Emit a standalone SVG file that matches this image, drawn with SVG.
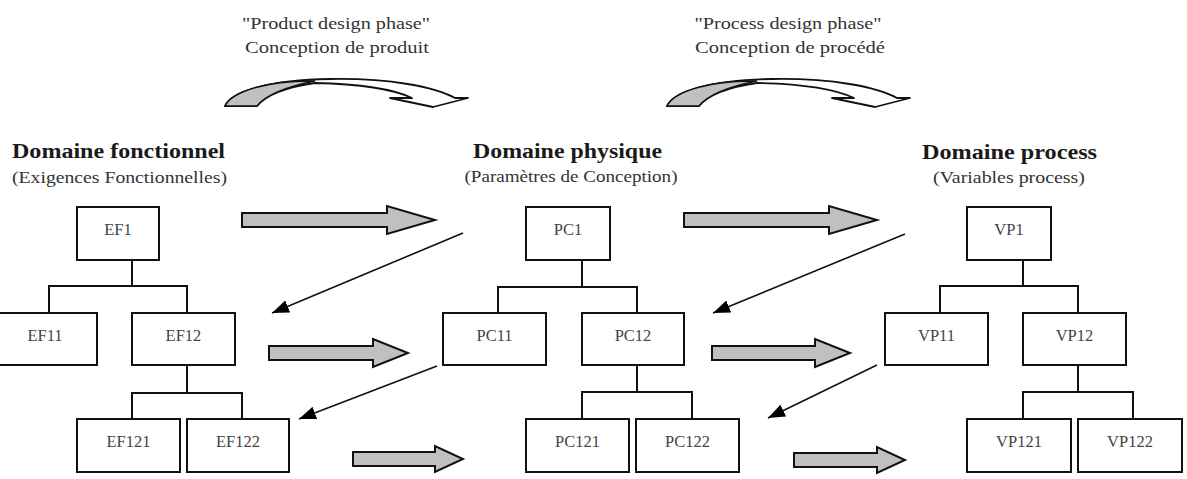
<svg xmlns="http://www.w3.org/2000/svg" width="1187" height="479" viewBox="0 0 1187 479">
<defs>
<style>
.box{fill:#fff;stroke:#111;stroke-width:2}
.tl{fill:none;stroke:#111;stroke-width:2}
.lbl{font-family:"Liberation Serif","Times New Roman",serif;font-size:16.5px;fill:#444;text-anchor:middle}
.ttl{font-family:"Liberation Serif","Times New Roman",serif;font-size:20px;font-weight:bold;fill:#1a1a1a;text-anchor:middle}
.sub{font-family:"Liberation Serif","Times New Roman",serif;font-size:17px;fill:#333;text-anchor:middle}
.top{font-family:"Liberation Serif","Times New Roman",serif;font-size:17px;fill:#333;text-anchor:middle}
.blk{fill:#c0c0c0;stroke:#111;stroke-width:2;stroke-linejoin:miter}
.diag{stroke:#111;stroke-width:1.6;fill:none;marker-end:url(#ah)}
.band{fill:#fff;stroke:#111;stroke-width:1.8;stroke-linejoin:round}
.bandg{fill:#c0c0c0;stroke:#111;stroke-width:1.5}
</style>
<marker id="ah" markerUnits="userSpaceOnUse" markerWidth="18" markerHeight="14" refX="17" refY="6.5" orient="auto">
<path d="M0,0 L17,6.5 L0,13 Z" fill="#000"/>
</marker>
<g id="curved">
<path class="band" d="M225,106 C232,91 270,80 330,79 C390,78 435,87 455,98 L468,98 L433,107 L390,98 L412,98 C395,90 365,84 315,83 C285,87 265,96 257,106 Z"/>
<path class="bandg" d="M225,106 C232,91 270,80 315,81 C285,87 265,96 257,106 Z"/>
</g>
</defs>
<rect width="1187" height="479" fill="#fff"/>

<g id="phase-labels">
<text class="top" x="336" y="29" textLength="188" lengthAdjust="spacingAndGlyphs">"Product design phase"</text>
<text class="top" x="337" y="53" textLength="184" lengthAdjust="spacingAndGlyphs">Conception de produit</text>
<text class="top" x="788" y="29" textLength="187" lengthAdjust="spacingAndGlyphs">"Process design phase"</text>
<text class="top" x="790" y="53" textLength="190" lengthAdjust="spacingAndGlyphs">Conception de procédé</text>
</g>

<g id="domain-titles">
<text class="ttl" x="118.5" y="158" textLength="213" lengthAdjust="spacingAndGlyphs">Domaine fonctionnel</text>
<text class="sub" x="119.5" y="183" textLength="215" lengthAdjust="spacingAndGlyphs">(Exigences Fonctionnelles)</text>
<text class="ttl" x="567.5" y="158" textLength="189" lengthAdjust="spacingAndGlyphs">Domaine physique</text>
<text class="sub" x="571" y="182" textLength="213" lengthAdjust="spacingAndGlyphs">(Paramètres de Conception)</text>
<text class="ttl" x="1009.5" y="159" textLength="175" lengthAdjust="spacingAndGlyphs">Domaine process</text>
<text class="sub" x="1009" y="183" textLength="152" lengthAdjust="spacingAndGlyphs">(Variables process)</text>
</g>

<g id="connectors">
<use href="#curved"/>
<use href="#curved" transform="translate(442,0)"/>
<path class="blk" d="M242,213 H387 V206 L435,220 L387,234 V227 H242 Z"/>
<path class="blk" d="M269,346 H373 V339 L408,353 L373,367 V360 H269 Z"/>
<path class="blk" d="M353,452 H435 V446 L463,459 L435,472 V466 H353 Z"/>
<path class="blk" d="M684,213 H829 V206 L877,220 L829,234 V227 H684 Z"/>
<path class="blk" d="M712,346 H815 V339 L850,353 L815,367 V360 H712 Z"/>
<path class="blk" d="M794,453 H877 V447 L905,460 L877,473 V467 H794 Z"/>
<line class="diag" x1="463" y1="233" x2="272" y2="313"/>
<line class="diag" x1="437" y1="366" x2="299" y2="419"/>
<line class="diag" x1="905" y1="234" x2="713" y2="313"/>
<line class="diag" x1="877" y1="365" x2="768" y2="418"/>
<path class="tl" d="M132,260 V286 M49,313 V286 H187 V313 M187,366 V393 M132,419 V393 H242 V419"/>
<path class="tl" d="M582,260 V287 M498,313 V287 H637 V313 M637,365 V392 M582,419 V392 H692 V419"/>
<path class="tl" d="M1023,260 V286 M940,313 V286 H1078 V313 M1078,365 V392 M1023,419 V392 H1133 V419"/>
</g>

<g id="EF1"><rect class="box" x="77" y="207" width="82" height="53"/><text class="lbl" x="118" y="235">EF1</text></g>
<g id="EF11"><rect class="box" x="-6" y="313" width="103" height="52"/><text class="lbl" x="45" y="341">EF11</text></g>
<g id="EF12"><rect class="box" x="132" y="313" width="103" height="52"/><text class="lbl" x="183.5" y="341">EF12</text></g>
<g id="EF121"><rect class="box" x="77" y="419" width="103" height="53"/><text class="lbl" x="128.5" y="447">EF121</text></g>
<g id="EF122"><rect class="box" x="187" y="419" width="102" height="53"/><text class="lbl" x="238" y="447">EF122</text></g>

<g id="PC1"><rect class="box" x="526" y="207" width="84" height="53"/><text class="lbl" x="568" y="235">PC1</text></g>
<g id="PC11"><rect class="box" x="443" y="313" width="103" height="52"/><text class="lbl" x="494.5" y="341">PC11</text></g>
<g id="PC12"><rect class="box" x="582" y="313" width="102" height="52"/><text class="lbl" x="633" y="341">PC12</text></g>
<g id="PC121"><rect class="box" x="526" y="419" width="103" height="53"/><text class="lbl" x="577.5" y="447">PC121</text></g>
<g id="PC122"><rect class="box" x="636" y="419" width="103" height="53"/><text class="lbl" x="687.5" y="447">PC122</text></g>

<g id="VP1"><rect class="box" x="967" y="207" width="84" height="53"/><text class="lbl" x="1009" y="235">VP1</text></g>
<g id="VP11"><rect class="box" x="885" y="313" width="103" height="52"/><text class="lbl" x="936.5" y="341">VP11</text></g>
<g id="VP12"><rect class="box" x="1023" y="313" width="103" height="52"/><text class="lbl" x="1074.5" y="341">VP12</text></g>
<g id="VP121"><rect class="box" x="967" y="419" width="104" height="53"/><text class="lbl" x="1019" y="447">VP121</text></g>
<g id="VP122"><rect class="box" x="1078" y="419" width="104" height="53"/><text class="lbl" x="1130" y="447">VP122</text></g>
</svg>
